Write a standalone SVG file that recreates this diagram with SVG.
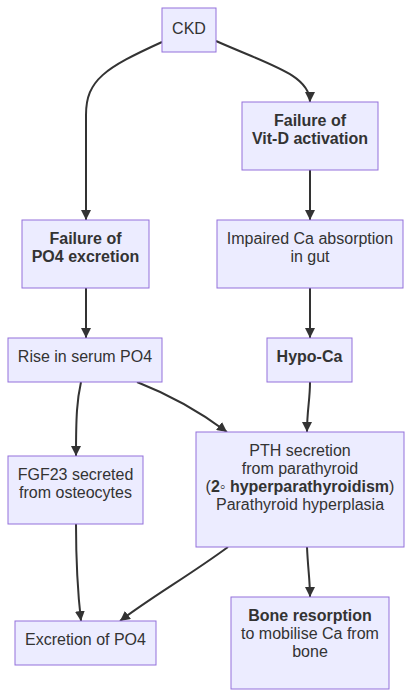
<svg xmlns="http://www.w3.org/2000/svg" width="412" height="698" viewBox="0 0 412 698">
<style>
.n{fill:#ECECFF;stroke:#9370DB;stroke-width:1}
text{font-family:"Liberation Sans",Arial,sans-serif;font-size:16px;fill:#333;text-anchor:middle}
.b{font-weight:bold}
.e{fill:none;stroke:#333;stroke-width:2}
</style>
<defs>
<marker id="ah" viewBox="0 0 10 10" refX="10" refY="5" markerWidth="10" markerHeight="10" markerUnits="userSpaceOnUse" orient="auto">
<path d="M0,0 L10,5 L0,10 z" fill="#333"/>
</marker>
</defs>
<g id="edges">
<path class="e" marker-end="url(#ah)" d="M162,42 C105,68 86,80 86,115 L86,220"/>
<path class="e" marker-end="url(#ah)" d="M216,41 C270,65 310,75 310,102"/>
<path class="e" marker-end="url(#ah)" d="M310,170 L310,220"/>
<path class="e" marker-end="url(#ah)" d="M86,288 L86,338"/>
<path class="e" marker-end="url(#ah)" d="M310,288 L310,338"/>
<path class="e" marker-end="url(#ah)" d="M81,382 C77,400 76,415 76,456"/>
<path class="e" marker-end="url(#ah)" d="M137,382 C165,393 195,408 227,432"/>
<path class="e" marker-end="url(#ah)" d="M310,382 C310,400 307,410 307,432"/>
<path class="e" marker-end="url(#ah)" d="M76,524 C76,570 78,595 81,621"/>
<path class="e" marker-end="url(#ah)" d="M228,547 C190,575 150,598 120,621"/>
<path class="e" marker-end="url(#ah)" d="M307,547 C308,570 310,580 310,597"/>
</g>
<g id="ckd"><rect class="n" x="162" y="8" width="54" height="44"/><text x="189" y="33.5">CKD</text></g>
<g id="vitd"><rect class="n" x="242" y="102" width="136" height="68"/><text class="b" x="310" y="126">Failure of</text><text class="b" x="310" y="144">Vit-D activation</text></g>
<g id="po4fail"><rect class="n" x="22" y="220" width="127" height="68"/><text class="b" x="85.5" y="244.3">Failure of</text><text class="b" x="85.5" y="262.3">PO4 excretion</text></g>
<g id="impaired"><rect class="n" x="217" y="220" width="186" height="68"/><text x="310" y="244.3">Impaired Ca absorption</text><text x="310" y="262.3">in gut</text></g>
<g id="rise"><rect class="n" x="8" y="338" width="154" height="44"/><text x="85" y="362.3">Rise in serum PO4</text></g>
<g id="hypoca"><rect class="n" x="267" y="338" width="85" height="44"/><text class="b" x="309.5" y="362.3">Hypo-Ca</text></g>
<g id="fgf23"><rect class="n" x="8" y="456" width="135" height="68"/><text x="75.5" y="480">FGF23 secreted</text><text x="75.5" y="498">from osteocytes</text></g>
<g id="pth"><rect class="n" x="196" y="432" width="208" height="115"/><text x="300" y="456">PTH secretion</text><text x="300" y="474">from parathyroid</text><text x="300" y="492">(<tspan class="b">2◦ hyperparathyroidism</tspan>)</text><text x="300" y="510">Parathyroid hyperplasia</text></g>
<g id="excretion"><rect class="n" x="15" y="621" width="141" height="44"/><text x="85.5" y="645">Excretion of PO4</text></g>
<g id="bone"><rect class="n" x="231" y="597" width="158" height="92"/><text class="b" x="310" y="621">Bone resorption</text><text x="310" y="639">to mobilise Ca from</text><text x="310" y="657">bone</text></g>
</svg>
